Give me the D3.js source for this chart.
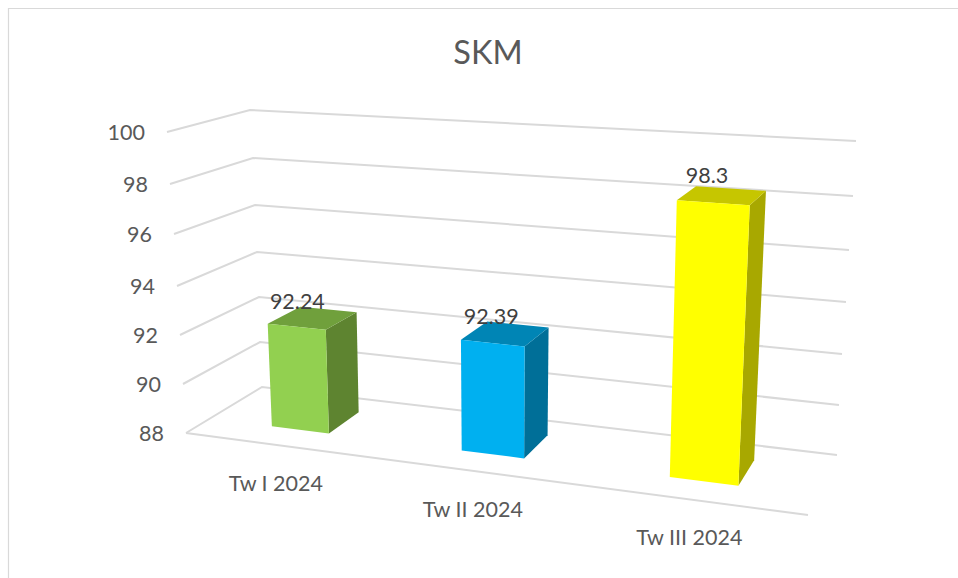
<!DOCTYPE html>
<html><head><meta charset="utf-8">
<script src="https://cdn.jsdelivr.net/npm/d3@7/dist/d3.min.js"></script>
<style>html,body{margin:0;padding:0;background:#fff}svg{display:block}text{font-family:Lato,"Open Sans",sans-serif}</style>
</head><body><svg id="c" width="958" height="578"></svg>
<script>
const title = "SKM";
const categories = ["Tw I 2024", "Tw II 2024", "Tw III 2024"];
const values = [92.24, 92.39, 98.3];
const yTicks = [88, 90, 92, 94, 96, 98, 100];
const frontColors = ["#92d050", "#00b0f0", "#ffff00"];
const topColors = ["#70a03c", "#0085b5", "#c6c600"];
const sideColors = ["#5e8430", "#006f98", "#a8a800"];

const svg = d3.select("#c");
// perspective box: each vertical edge of the 3D box is a scale value -> pixels
const edge = (xs, ys) => ({
  x: d3.scaleLinear().domain(yTicks).range(xs),
  y: d3.scaleLinear().domain(yTicks).range(ys)
});
const FL = edge([186,183,180,177,174,170,167], [433,384,335,286,234,184,132]);
const BL = edge([262,260,259,257,255,253,250], [387,342,297,252,205,158,110]);
const BR = edge([837,839,842,846,849,853,856], [455,405,354,302,250,196,141]);
const FR = edge([808,811,814,817,820,824,828], [515,460,404,347,290,231,170]);

function project(u, d, v) {
  const P = [FL, FR, BR, BL].map(e => [e.x(v), e.y(v)]);
  const [x0,y0]=P[0],[x1,y1]=P[1],[x2,y2]=P[2],[x3,y3]=P[3];
  const dx1=x1-x2,dx2=x3-x2,sx=x0-x1+x2-x3,dy1=y1-y2,dy2=y3-y2,sy=y0-y1+y2-y3;
  const det=dx1*dy2-dx2*dy1;
  const g=(sx*dy2-dx2*sy)/det,h=(dx1*sy-sx*dy1)/det;
  const a=x1-x0+g*x1,b=x3-x0+h*x3,c=x0,dd=y1-y0+g*y1,e=y3-y0+h*y3,f=y0;
  const w=g*u+h*d+1;
  return [(a*u+b*d+c)/w,(dd*u+e*d+f)/w];
}

// frame
svg.append("path").attr("d","M8.5,578V8.5H958").attr("fill","none").attr("stroke","#d9d9d9").attr("stroke-width",1.2);

// title
svg.append("text").attr("x",488).attr("y",64).attr("text-anchor","middle").attr("font-size",32.5).attr("fill","#595959").text(title);

// gridlines
const line = d3.line();
const gridColor = "#d9d9d9";
svg.append("g").selectAll("path").data(yTicks).join("path")
  .attr("d", v => line([[FL.x(v),FL.y(v)],[BL.x(v),BL.y(v)],[BR.x(v),BR.y(v)]]))
  .attr("fill","none").attr("stroke",gridColor).attr("stroke-width",2);
svg.append("path").attr("d", line([[FL.x(88),FL.y(88)],[FR.x(88),FR.y(88)]]))
  .attr("fill","none").attr("stroke",gridColor).attr("stroke-width",2);

// y tick labels
svg.append("g").selectAll("text").data(yTicks).join("text")
  .attr("x", v => FL.x(v)-22).attr("y", v => FL.y(v)+3)
  .attr("text-anchor","end").attr("dominant-baseline","middle")
  .attr("font-size",21.5).attr("fill","#595959").text(v => v);

// bars
const band = d3.scaleBand().domain(categories).range([0,1]).paddingInner(0.69).paddingOuter(0.345);
const d0 = 0.3, d1 = 0.74, base = 88;
const labelDx = [-3, 4, 11], labelDy = [2, 2, -3];
const g = svg.append("g");
const poly = pts => "M"+pts.map(p=>p.join(",")).join("L")+"Z";
categories.forEach((cat,i) => {
  const u0 = band(cat), u1 = u0 + band.bandwidth(), v = values[i];
  const ftl=project(u0,d0,v), ftr=project(u1,d0,v), btr=project(u1,d1,v), btl=project(u0,d1,v);
  const fbl=project(u0,d0,base), fbr=project(u1,d0,base), bbr=project(u1,d1,base);
  g.append("path").attr("d",poly([ftr,btr,bbr,fbr])).attr("fill",sideColors[i]);
  g.append("path").attr("d",poly([ftl,btl,btr,ftr])).attr("fill",topColors[i]);
  g.append("path").attr("d",poly([ftl,ftr,fbr,fbl])).attr("fill",frontColors[i]);
  svg.append("text").attr("x",btl[0]+labelDx[i]).attr("y",btl[1]+labelDy[i]).attr("text-anchor","middle")
    .attr("font-size",21.5).attr("fill","#404040").text(v);
  const lab = project((u0+u1)/2,0,base);
  svg.append("text").attr("x",lab[0]-2).attr("y",lab[1]+40).attr("text-anchor","middle").attr("dominant-baseline","middle")
    .attr("font-size",21.5).attr("fill","#595959").text(cat);
});
</script></body></html>
